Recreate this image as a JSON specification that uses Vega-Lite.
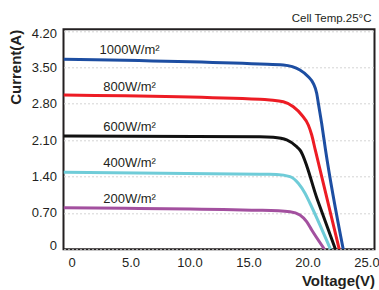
{
  "$schema": "https://vega.github.io/schema/vega-lite/v6.json",
  "width": 311,
  "height": 220,
  "autosize": "none",
  "padding": {"left": 63.5, "top": 29.3, "right": 4.5, "bottom": 40.7},
  "background": "white",
  "config": {
    "view": {"stroke": "#231f20", "strokeWidth": 2},
    "font": "Liberation Sans",
    "axis": {"labelOverlap": false}
  },
  "title": {
    "text": "Cell Temp.25°C",
    "anchor": "end",
    "frame": "group",
    "fontSize": 11.5,
    "fontWeight": "normal",
    "color": "#231f20",
    "baseline": "middle",
    "offset": -2.7,
    "dx": -3
  },
  "datasets": {
    "curves": [
      {"series": "1000", "V": -0.68, "I": 3.654},
      {"series": "1000", "V": 15.97, "I": 3.563},
      {"series": "1000", "V": 17.95, "I": 3.544},
      {"series": "1000", "V": 19.36, "I": 3.448},
      {"series": "1000", "V": 20.07, "I": 3.319},
      {"series": "1000", "V": 20.49, "I": 3.192},
      {"series": "1000", "V": 20.78, "I": 3.0},
      {"series": "1000", "V": 20.92, "I": 2.808},
      {"series": "1000", "V": 21.2, "I": 2.423},
      {"series": "1000", "V": 21.53, "I": 1.91},
      {"series": "1000", "V": 23.03, "I": 0},
      {"series": "800", "V": -0.68, "I": 2.967},
      {"series": "800", "V": 15.97, "I": 2.885},
      {"series": "800", "V": 16.82, "I": 2.871},
      {"series": "800", "V": 17.95, "I": 2.838},
      {"series": "800", "V": 18.8, "I": 2.742},
      {"series": "800", "V": 19.51, "I": 2.583},
      {"series": "800", "V": 20.07, "I": 2.39},
      {"series": "800", "V": 20.36, "I": 2.198},
      {"series": "800", "V": 20.66, "I": 1.91},
      {"series": "800", "V": 22.69, "I": 0},
      {"series": "600", "V": -0.68, "I": 2.179},
      {"series": "600", "V": 15.97, "I": 2.165},
      {"series": "600", "V": 17.1, "I": 2.154},
      {"series": "600", "V": 18.24, "I": 2.102},
      {"series": "600", "V": 19.08, "I": 1.973},
      {"series": "600", "V": 19.36, "I": 1.91},
      {"series": "600", "V": 20.85, "I": 0.948},
      {"series": "600", "V": 22.37, "I": 0},
      {"series": "400", "V": -0.68, "I": 1.481},
      {"series": "400", "V": 15.97, "I": 1.442},
      {"series": "400", "V": 17.39, "I": 1.44},
      {"series": "400", "V": 18.52, "I": 1.396},
      {"series": "400", "V": 19.22, "I": 1.269},
      {"series": "400", "V": 19.79, "I": 1.077},
      {"series": "400", "V": 20.21, "I": 0.885},
      {"series": "400", "V": 21.95, "I": 0},
      {"series": "200", "V": -0.68, "I": 0.8},
      {"series": "200", "V": 15.97, "I": 0.75},
      {"series": "200", "V": 18.52, "I": 0.723},
      {"series": "200", "V": 19.36, "I": 0.66},
      {"series": "200", "V": 19.93, "I": 0.531},
      {"series": "200", "V": 20.36, "I": 0.371},
      {"series": "200", "V": 21.44, "I": 0}
    ],
    "labels": [
      {"label": "1000W/m²", "V": 4.92, "I": 3.827},
      {"label": "800W/m²", "V": 4.92, "I": 3.127},
      {"label": "600W/m²", "V": 4.92, "I": 2.358},
      {"label": "400W/m²", "V": 4.92, "I": 1.654},
      {"label": "200W/m²", "V": 4.92, "I": 0.962}
    ]
  },
  "encoding": {
    "x": {
      "field": "V",
      "type": "quantitative",
      "scale": {"domain": [-0.68, 25.68], "nice": false, "zero": false},
      "axis": {
        "title": "Voltage(V)",
        "values": [0, 5, 10, 15, 20, 25],
        "labelExpr": "datum.value == 0 ? '0' : format(datum.value, '.1f')",
        "labelOverlap": false,
        "grid": false,
        "ticks": false,
        "domain": false,
        "labelPadding": 7,
        "labelFontSize": 13,
        "labelColor": "#231f20",
        "labelFlush": false,
        "titleFontSize": 15,
        "titleFontWeight": "bold",
        "titleColor": "#231f20",
        "titleAnchor": "end",
        "titleAlign": "right",
        "titleX": 311,
        "titleY": 31.5,
        "titleBaseline": "middle"
      }
    },
    "y": {
      "field": "I",
      "type": "quantitative",
      "scale": {"domain": [0, 4.23], "nice": false, "zero": false},
      "axis": {
        "title": "Current(A)",
        "values": [0, 0.7, 1.4, 2.1, 2.8, 3.5, 4.2],
        "labelExpr": "datum.value == 0 ? '0' : format(datum.value, '.2f')",
        "labelOverlap": false,
        "grid": true,
        "gridDash": [2, 2],
        "gridColor": "#d4d4d4",
        "gridWidth": 1,
        "ticks": false,
        "domain": false,
        "labelPadding": 7,
        "labelFontSize": 13,
        "labelColor": "#231f20",
        "labelFlush": 5,
        "labelFlushOffset": 3,
        "titleFontSize": 15,
        "titleFontWeight": "bold",
        "titleColor": "#231f20",
        "titleAngle": -90,
        "titleAlign": "right",
        "titleBaseline": "middle",
        "titleX": -48.5,
        "titleY": 0
      }
    }
  },
  "layer": [
    {
      "data": {"name": "curves"},
      "mark": {"type": "line", "strokeWidth": 3, "interpolate": "monotone", "clip": true},
      "encoding": {
        "color": {
          "field": "series",
          "type": "nominal",
          "scale": {
            "domain": ["1000", "800", "600", "400", "200"],
            "range": ["#1d4ea2", "#ed1c24", "#111111", "#6fccd8", "#a3509f"]
          },
          "legend": null
        }
      }
    },
    {
      "data": {"name": "labels"},
      "mark": {"type": "text", "fontSize": 13, "color": "#231f20", "align": "center", "baseline": "middle"},
      "encoding": {
        "text": {"field": "label"}
      }
    }
  ]
}
